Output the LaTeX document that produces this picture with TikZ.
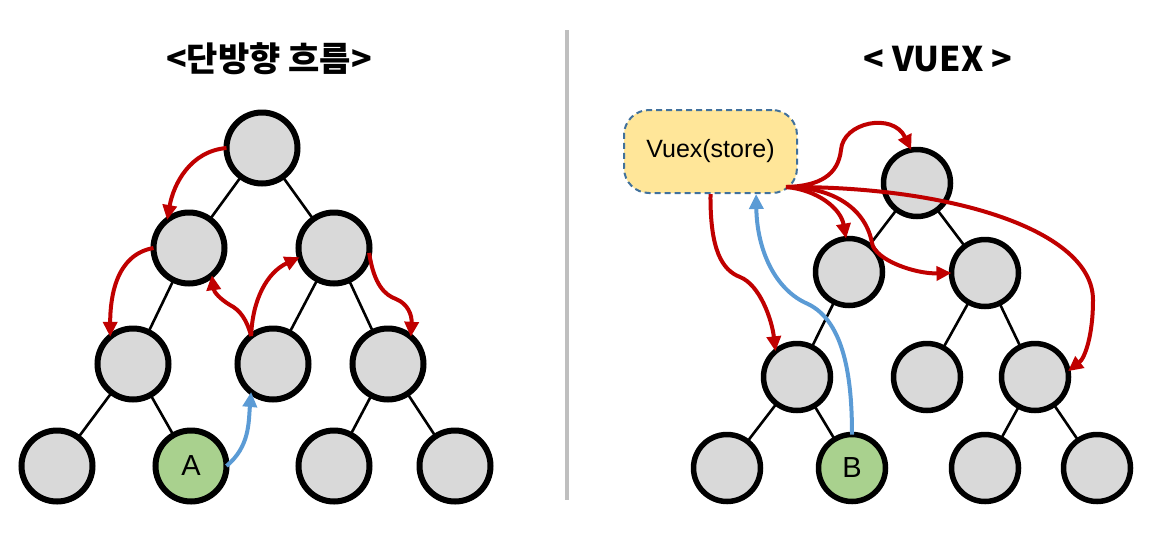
\documentclass[tikz,border=0pt]{standalone}
\usepackage{fontspec}
\usepackage{tkz-graph}
\usetikzlibrary{arrows.meta}
\setmainfont{Liberation Sans}
\newfontfamily\krfont{Noto Sans CJK KR}
\definecolor{nodegray}{HTML}{D9D9D9}
\definecolor{nodegreen}{HTML}{A9D18E}
\definecolor{flowred}{HTML}{C00000}
\definecolor{flowblue}{HTML}{5B9BD5}
\definecolor{storefill}{HTML}{FFE699}
\definecolor{storeline}{HTML}{41719C}
\definecolor{splitgray}{HTML}{BFBFBF}

\begin{document}
\begin{tikzpicture}[x=1pt,y=1pt]
        \useasboundingbox (0,0) rectangle (1152,-539);
        \GraphInit[vstyle=Normal]
        \tikzset{VertexStyle/.style={circle,draw=black,fill=nodegray,line width=6pt,
                   minimum size=71pt,inner sep=0pt,font=\fontsize{29}{29}\selectfont},
                 EdgeStyle/.style={draw=black,line width=2.6pt},
                 RedFlow/.style={draw=flowred,line width=4pt,-{Triangle[length=15pt,width=14pt]}},
                 BlueFlow/.style={draw=flowblue,line width=4pt,-{Triangle[length=15pt,width=14pt]}},
                 StoreStyle/.style={draw=storeline,fill=storefill,line width=2pt,
                   dash pattern=on 6pt off 4pt,rounded corners=25pt,
                   minimum width=173pt,minimum height=83pt,font=\fontsize{25}{25}\selectfont},
                 TitleStyle/.style={anchor=base,font=\krfont\bfseries\fontsize{34}{34}\selectfont},
                 SplitLine/.style={draw=splitgray,line width=4pt}}
        % titles
        \node[TitleStyle] (titleL) at (269,-71) {<단방향 흐름>};
        \node[TitleStyle] (titleR) at (938,-71) {< VUEX >};
        \draw[SplitLine] (567,-30) -- (567,-500);
        % one-way tree
        \Vertex[x=262,y=-148,NoLabel]{L1}
        \Vertex[x=189,y=-248,NoLabel]{L2}
        \Vertex[x=334,y=-248,NoLabel]{L3}
        \Vertex[x=133,y=-364,NoLabel]{L4}
        \Vertex[x=273,y=-364,NoLabel]{L5}
        \Vertex[x=388,y=-364,NoLabel]{L6}
        \Vertex[x=57,y=-466,NoLabel]{L7}
        \begin{scope}[VertexStyle/.append style={fill=nodegreen}]
          \Vertex[x=191,y=-466,L=A]{L8}
        \end{scope}
        \Vertex[x=334,y=-466,NoLabel]{L9}
        \Vertex[x=455,y=-466,NoLabel]{L10}
        \Edge(L1)(L2)
        \Edge(L1)(L3)
        \Edge(L2)(L4)
        \Edge(L3)(L5)
        \Edge(L3)(L6)
        \Edge(L4)(L7)
        \Edge(L4)(L8)
        \Edge(L6)(L9)
        \Edge(L6)(L10)
        \draw[RedFlow] (L1.west) to[out=185,in=80] (L2.128);
        \draw[RedFlow] (L2.west) to[out=190,in=90] (L4.130);
        \draw[RedFlow] (L5.128) .. controls (247,-320) and (240,-310) .. (230,-305)
                       .. controls (220,-299) and (214,-292) .. (L2.-50);
        \draw[RedFlow] (L5.128) to[out=88,in=205] (L3.195);
        \draw[RedFlow] (L3.-8) .. controls (374,-285) and (385,-295) .. (396,-299)
                       .. controls (408,-304) and (412,-315) .. (L6.50);
        \draw[BlueFlow] (L8.east) to[out=40,in=-95] (L5.-128);
        % vuex tree
        \node[StoreStyle] (store) at (710.5,-151.5) {Vuex(store)};
        \coordinate (hub) at ([shift={(-12,7)}]store.south east);
        \begin{scope}[VertexStyle/.append style={minimum size=67pt,line width=5.5pt}]
          \Vertex[x=917,y=-183,NoLabel]{R1}
          \Vertex[x=849,y=-272,NoLabel]{R2}
          \Vertex[x=985,y=-273,NoLabel]{R3}
          \Vertex[x=797,y=-377,NoLabel]{R4}
          \Vertex[x=927,y=-377,NoLabel]{R5}
          \Vertex[x=1035,y=-377,NoLabel]{R6}
          \Vertex[x=727,y=-468,NoLabel]{R7}
          \begin{scope}[VertexStyle/.append style={fill=nodegreen}]
            \Vertex[x=852,y=-468,L=B]{R8}
          \end{scope}
          \Vertex[x=985,y=-468,NoLabel]{R9}
          \Vertex[x=1097,y=-468,NoLabel]{R10}
        \end{scope}
        \Edge(R1)(R2)
        \Edge(R1)(R3)
        \Edge(R2)(R4)
        \Edge(R3)(R5)
        \Edge(R3)(R6)
        \Edge(R4)(R7)
        \Edge(R4)(R8)
        \Edge(R6)(R9)
        \Edge(R6)(R10)
        \draw[RedFlow] (hub) .. controls (820,-186) and (838,-175) .. (841,-150)
                       .. controls (843,-122) and (893,-112) .. (R1.100);
        \draw[RedFlow] (hub) to[out=-5,in=100] (R2.95);
        \draw[RedFlow] (hub) .. controls (835,-187) and (866,-210) .. (872,-243)
                       .. controls (875,-260) and (915,-274) .. (R3.180);
        \draw[RedFlow] (hub) .. controls (950,-186) and (1093,-230) .. (1093,-300)
                       .. controls (1093,-335) and (1085,-358) .. (R6.10);
        \draw[RedFlow] (store.south) .. controls (710,-250) and (722,-270) .. (740,-277)
                       .. controls (760,-285) and (772,-320) .. (R4.130);
        \draw[BlueFlow] (R8.north) .. controls (852,-380) and (845,-322) .. (808,-304)
                        .. controls (775,-290) and (757,-250) .. (store.-43);
\end{tikzpicture}
\end{document}
